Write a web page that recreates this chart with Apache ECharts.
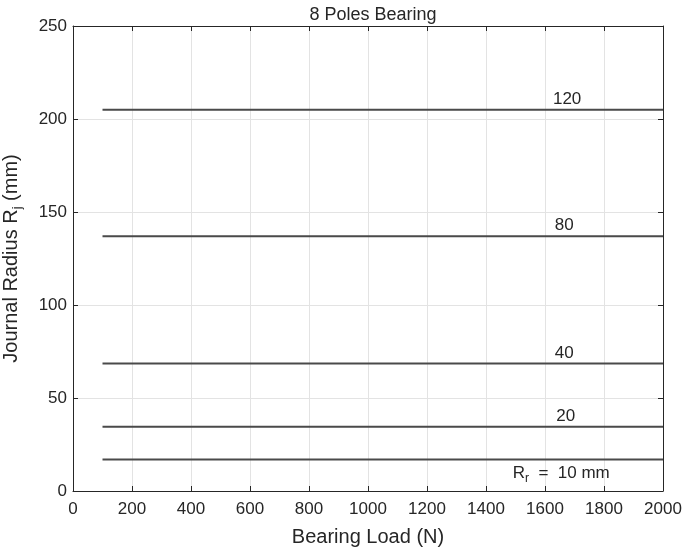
<!DOCTYPE html>
<html>
<head>
<meta charset="utf-8">
<script src="https://cdn.jsdelivr.net/npm/echarts@6/dist/echarts.min.js"></script>
<style>
  html, body { margin: 0; padding: 0; background: #fff; }
  #chart { width: 685px; height: 551px; }
</style>
</head>
<body>
<div id="chart"></div>
<script>
// rotor radius of each curve (mm) and the journal radius it gives
const rotorRadius = [120, 80, 40, 20, 10];
const journalRadius = [205, 137, 68.5, 34.5, 17];
const loadRange = [100, 2000];
// load at which each curve's label sits
const labelLoad = [1675, 1665, 1665, 1670, 1655];

const chart = echarts.init(document.getElementById('chart'));

const font = 'Liberation Sans, Arial, sans-serif';
const textColor = '#262626';
const lineColor = '#4a4a4a';

const series = rotorRadius.map((r, i) => {
  const y = journalRadius[i];
  const last = i === rotorRadius.length - 1;
  return {
    type: 'line',
    symbol: 'circle',
    symbolSize: 0,
    showSymbol: true,
    silent: true,
    lineStyle: { color: lineColor, width: 2 },
    label: { show: false },
    data: [
      [loadRange[0], y],
      {
        value: [labelLoad[i], y],
        label: {
          show: true,
          position: last ? 'bottom' : 'top',
          distance: 2,
          formatter: last ? '{n|R}{s|r}{n|  =  ' + r + ' mm}' : String(r),
          color: textColor,
          fontFamily: font,
          fontSize: 17,
          rich: {
            n: { fontSize: 17, fontFamily: font, color: textColor },
            s: { fontSize: 12, fontFamily: font, color: textColor, padding: [11, 0, 0, 0] }
          }
        }
      },
      [loadRange[1], y]
    ]
  };
});

const axisLine = { show: true, onZero: false, lineStyle: { color: textColor, width: 1 } };
const axisTick = { show: true, inside: true, length: 5, lineStyle: { color: textColor } };
const gridLine = { show: true, lineStyle: { color: '#e3e3e3', width: 1 } };

const option = {
  animation: false,
  backgroundColor: '#fff',
  title: {
    text: '8 Poles Bearing',
    left: 368,
    textAlign: 'center',
    top: 1,
    textStyle: { fontFamily: font, fontSize: 18, fontWeight: 'normal', color: textColor }
  },
  grid: { left: 73, right: 22, top: 26, bottom: 60, containLabel: false, outerBoundsMode: 'none' },
  xAxis: [
    {
      type: 'value', min: 0, max: 2000, interval: 200,
      name: 'Bearing Load (N)',
      nameLocation: 'middle',
      nameGap: 36,
      nameTextStyle: { fontFamily: font, fontSize: 20, color: textColor },
      axisLine: axisLine, axisTick: axisTick,
      axisLabel: { color: textColor, fontSize: 17, fontFamily: font, margin: 10, formatter: v => String(v) },
      splitLine: gridLine
    },
    {
      type: 'value', min: 0, max: 2000, interval: 200, position: 'top',
      axisLine: axisLine, axisTick: axisTick,
      axisLabel: { show: false }, splitLine: { show: false }
    }
  ],
  yAxis: [
    {
      type: 'value', min: 0, max: 250, interval: 50,
      name: '{n|Journal Radius R}{s|j}{n| (mm)}',
      nameLocation: 'middle',
      nameGap: 49,
      nameTextStyle: {
        fontFamily: font, fontSize: 20, color: textColor,
        rich: {
          n: { fontSize: 20, fontFamily: font, color: textColor },
          s: { fontSize: 13, fontFamily: font, color: textColor, padding: [12, 0, 0, 0] }
        }
      },
      axisLine: axisLine, axisTick: axisTick,
      axisLabel: { color: textColor, fontSize: 17, fontFamily: font, margin: 6, formatter: v => String(v) },
      splitLine: gridLine
    },
    {
      type: 'value', min: 0, max: 250, interval: 50, position: 'right',
      axisLine: axisLine, axisTick: axisTick,
      axisLabel: { show: false }, splitLine: { show: false }
    }
  ],
  series: series
};

chart.setOption(option);
</script>
</body>
</html>
